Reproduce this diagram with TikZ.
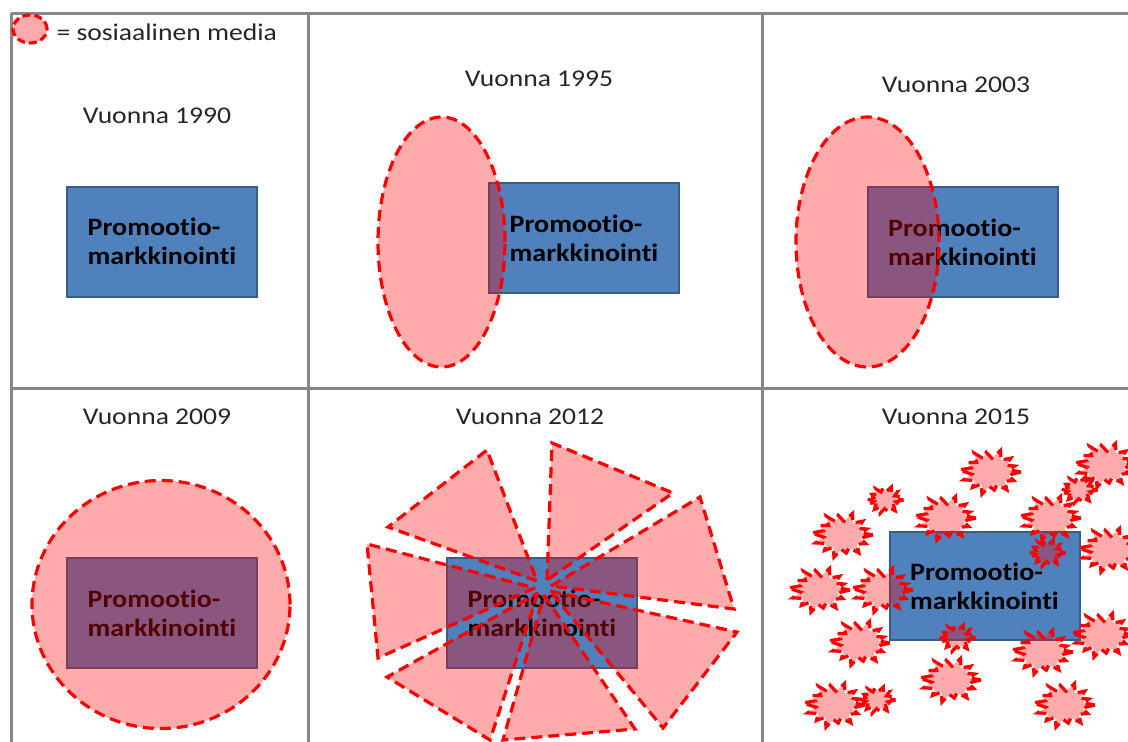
\documentclass[tikz,border=0pt]{standalone}
\usepackage{fontspec}
\setmainfont{Carlito}
\newfontfamily\labelfont{Carlito}[FakeStretch=1.15, Ligatures=NoCommon]
\newfontfamily\promofont{Carlito}[FakeStretch=1.12, Ligatures=NoCommon, Contextuals=NoAlternate]
\definecolor{boxblue}{HTML}{4F81BD}
\definecolor{boxedge}{HTML}{385D8A}
\definecolor{gridgray}{HTML}{878787}
\tikzset{
  frame/.style={draw=gridgray, line width=3pt},
  media/.style={draw=red, fill=red, fill opacity=0.33, line width=3.2pt, dash pattern=on 11pt off 6pt},
  promo/.style={draw=boxedge, fill=boxblue, line width=2pt, minimum width=190pt, minimum height=110pt,
    inner sep=0pt, align=left, font=\promofont\bfseries\fontsize{25}{29}\selectfont},
  year/.style={anchor=base, text=black!85, font=\labelfont\fontsize{24}{28}\selectfont}
}
% irregular starburst, unit size 30x22
\newcommand\burst[3]{%
  \begin{scope}[shift={(#1,#2)}, xscale=31*#3, yscale=23*#3]
    \draw[media] (0:1) -- (13:.6) -- (26:.85) -- (40:.62) -- (55:.95) -- (68:.6) -- (80:.8) -- (92:.63)
      -- (105:1) -- (118:.6) -- (130:.88) -- (144:.62) -- (158:.92) -- (171:.6) -- (185:1) -- (197:.63)
      -- (210:.82) -- (224:.6) -- (238:.97) -- (250:.62) -- (262:.86) -- (276:.6) -- (290:1) -- (304:.62)
      -- (318:.9) -- (330:.6) -- (342:.84) -- (351:.62) -- cycle;
  \end{scope}}
\begin{document}
\begin{tikzpicture}[x=1pt,y=-1pt]
  \useasboundingbox (0,0) rectangle (1128,742);
  \clip (0,0) rectangle (1128,742);
  % grid
  \draw[frame] (11,13) -- (1128,13);
  \draw[frame] (11,388) -- (1128,388);
  \draw[frame] (11,13) -- (11,742);
  \draw[frame] (308,13) -- (308,742);
  \draw[frame] (762,13) -- (762,742);

  % legend
  \draw[media, dash pattern=on 8pt off 4pt] (30,29) ellipse [x radius=17pt, y radius=14pt];
  \node[year, anchor=base west] (legend) at (53,40) {= sosiaalinen media};

  % 1990
  \node[year] (y90) at (157,123) {Vuonna 1990};
  \node[promo] (promo90) at (162,241.5) {Promootio-\\markkinointi};

  % 1995
  \node[year] (y95) at (539,86) {Vuonna 1995};
  \node[promo] (promo95) at (584,238) {Promootio-\\markkinointi};
  \draw[media] (441.5,242) ellipse [x radius=63.5pt, y radius=125pt];

  % 2003
  \node[year] (y03) at (956,92) {Vuonna 2003};
  \node[promo] (promo03) at (962.5,242) {Promootio-\\markkinointi};
  \draw[media] (867.5,242) ellipse [x radius=71.5pt, y radius=125pt];

  % 2009
  \node[year] (y09) at (157,424) {Vuonna 2009};
  \node[promo] (promo09) at (162,613) {Promootio-\\markkinointi};
  \draw[media] (161,604.5) ellipse [x radius=129pt, y radius=124pt];

  % 2012
  \node[year] (y12) at (530,424) {Vuonna 2012};
  \node[promo] (promo12) at (542,613) {Promootio-\\markkinointi};
  \draw[media] (537,581) -- (388,527) -- (487,450) -- cycle;
  \draw[media] (547,580) -- (552,443) -- (673,493) -- cycle;
  \draw[media] (551,586) -- (700,497) -- (734,609) -- cycle;
  \draw[media] (550,591) -- (737,632) -- (663,728) -- cycle;
  \draw[media] (544,595) -- (635,729) -- (503,740) -- cycle;
  \draw[media] (538,593) -- (490,740) -- (387,677) -- cycle;
  \draw[media] (535,588) -- (378,658) -- (367,544) -- cycle;

  % 2015
  \node[year] (y15) at (956,424) {Vuonna 2015};
  \node[promo, minimum height=108pt] (promo15) at (984.5,586) {Promootio-\\markkinointi};
  \foreach \bx/\by/\bs in {990/472/1, 1105/465/1, 885/500/0.6, 1079/490/0.6, 945/518/1, 1050/518/1,
      842/535/1, 1109/550/1, 1047/553/0.6, 819/590/1, 882/590/1, 859/643/1, 957/638/0.6,
      1042/652/1, 1102/635/1, 950/680/1, 834/705/1, 877/700/0.6, 1064/705/1}
    {\burst{\bx}{\by}{\bs}}
\end{tikzpicture}
\end{document}
